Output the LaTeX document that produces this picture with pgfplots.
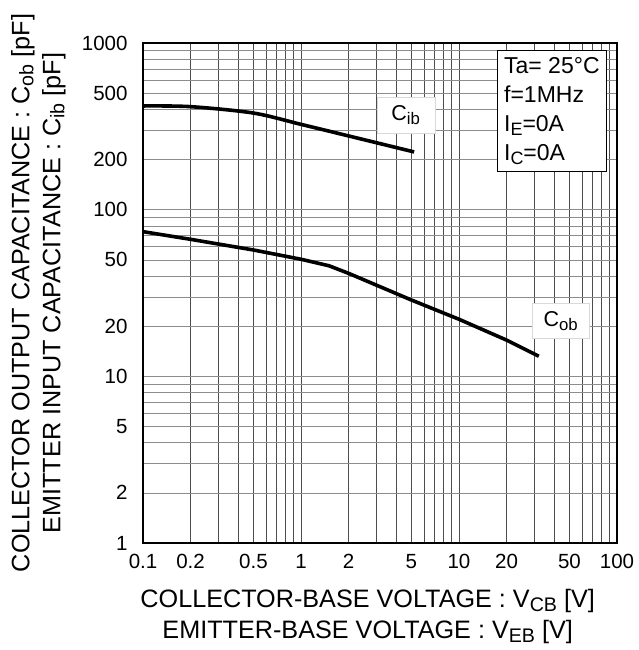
\documentclass[border=0pt]{standalone}
\usepackage{fontspec}
\setmainfont{Liberation Sans}
\usepackage{pgfplots}
\pgfplotsset{compat=1.18}
\newcommand{\sub}[1]{\raisebox{-0.3ex}{\scalebox{0.78}{#1}}}
\begin{document}
\begin{tikzpicture}
\begin{axis}[
  scale only axis,
  width=474pt, height=500pt,
  xmode=log, ymode=log,
  xmin=0.1, xmax=100, ymin=1, ymax=1000,
  xtick={0.1,0.2,0.3,0.4,0.5,0.6,0.7,0.8,0.9,1,2,3,4,5,6,7,8,9,10,20,30,40,50,60,70,80,90,100},
  xticklabels={0.1,0.2,,,0.5,,,,,1,2,,,5,,,,,10,20,,,50,,,,,100},
  ytick={1,2,3,4,5,6,7,8,9,10,20,30,40,50,60,70,80,90,100,200,300,400,500,600,700,800,900,1000},
  yticklabels={1,2,,,5,,,,,10,20,,,50,,,,,100,200,,,500,,,,,1000},
  grid=major,
  major x grid style={black!70, line width=0.6pt},
  major y grid style={black!45, line width=0.6pt},
  major tick length=0pt,
  axis line style={line width=2pt},
  clip=false,
  /pgf/number format/assume math mode=true,
  tick label style={font=\fontsize{20.5}{22}\selectfont},
  xticklabel style={yshift=-8pt},
  yticklabel style={xshift=-12pt},
  label style={font=\fontsize{25.2}{31}\selectfont, align=center},
  xlabel={COLLECTOR-BASE VOLTAGE : V\sub{CB} [V]\\EMITTER-BASE VOLTAGE : V\sub{EB} [V]},
  ylabel={COLLECTOR OUTPUT CAPACITANCE : C\sub{ob} [pF]\\EMITTER INPUT CAPACITANCE : C\sub{ib} [pF]},
  xlabel style={at={(axis description cs:0.474,-0.147)}, anchor=center},
  ylabel style={at={(axis description cs:-0.2205,0.5)}, anchor=center},
]
% C_ib
\addplot[black, line width=3.6pt, smooth] coordinates {
  (0.1,419) (0.2,415) (0.5,380) (1,325) (2,277) (5.2,222)
};
% C_ob
\addplot[black, line width=3.6pt] coordinates {
  (0.1,73.8) (0.2,66.4) (0.5,57.3) (1,50.4) (1.5,46.1) (2,41.5) (5,28.7) (10,22) (20,16.5) (32,13.2)
};
\node[fill=white, draw=gray!30, minimum width=58pt, minimum height=36pt,
  font=\fontsize{21.5}{23}\selectfont]
  at (axis cs:4.6,370) {C\sub{ib}};
\node[fill=white, draw=gray!30, minimum width=57pt, minimum height=35pt,
  font=\fontsize{21.5}{23}\selectfont]
  at (axis cs:44,21.5) {C\sub{ob}};
\node[anchor=north east, fill=white, draw=black, line width=0.8pt, align=left,
  inner xsep=7pt, inner ysep=7pt, font=\fontsize{23}{29}\selectfont]
  at (rel axis cs:0.979,0.986)
  {Ta= 25°C\\f=1MHz\\I\sub{E}=0A\\I\sub{C}=0A};
% page margins as in the reference
\node[inner sep=0pt, minimum size=0pt] at (rel axis cs:-0.3017,1.086) {};
\node[inner sep=0pt, minimum size=0pt] at (rel axis cs:1.0464,-0.214) {};
\end{axis}
\end{tikzpicture}
\end{document}
